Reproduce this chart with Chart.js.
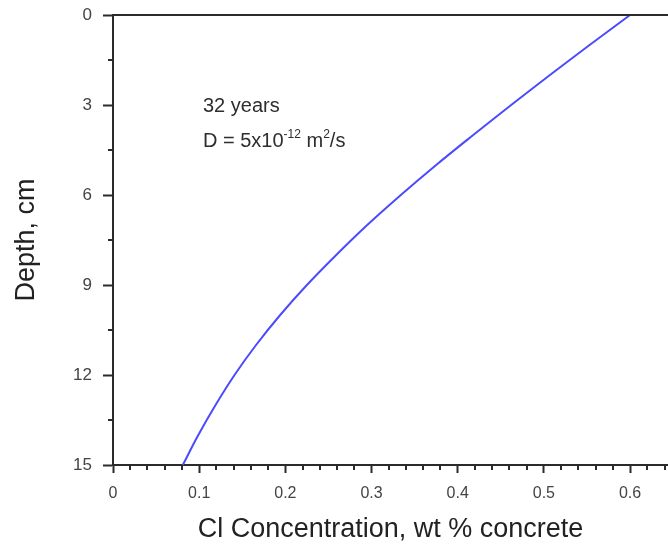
<!DOCTYPE html>
<html>
<head>
<meta charset="utf-8">
<script src="https://cdn.jsdelivr.net/npm/chart.js@4.4.1/dist/chart.umd.min.js"></script>
<style>
  html, body { margin: 0; padding: 0; background: #fff; }
  #wrap { width: 668px; height: 550px; position: relative; }
</style>
</head>
<body>
<div id="wrap"><canvas id="chloride-chart" width="668" height="550"></canvas></div>
<script>
// depth (cm) and chloride content
const depths = [0, 1, 2, 3, 4, 5, 6, 7, 8, 9, 10, 11, 12, 13, 14, 15];
const concentration = [0.600, 0.553, 0.507, 0.462, 0.418, 0.375, 0.334, 0.295, 0.259, 0.225, 0.194, 0.166, 0.141, 0.119, 0.099, 0.081];
const xTicks = [0, 0.1, 0.2, 0.3, 0.4, 0.5, 0.6];
const yTicks = [0, 3, 6, 9, 12, 15];

const axisColor = '#2b2b2b';
const labelColor = '#444';
const fontFamily = '"Liberation Sans", Arial, sans-serif';

const points = depths.map((d, i) => ({ x: concentration[i], y: d }));

// minor ticks + top frame line + annotation text
const extras = {
  id: 'extras',
  afterDraw(chart) {
    const { ctx, chartArea, scales } = chart;
    ctx.save();
    ctx.strokeStyle = axisColor;
    ctx.lineWidth = 2;
    ctx.beginPath();
    ctx.moveTo(chartArea.left, chartArea.top);
    ctx.lineTo(chartArea.right, chartArea.top);
    ctx.stroke();

    ctx.beginPath();
    for (let v = 0.02; v < scales.x.max; v += 0.02) {
      const r = Math.round(v * 100);
      if (r % 10 === 0) continue;
      const px = Math.round(scales.x.getPixelForValue(v));
      ctx.moveTo(px, chartArea.bottom);
      ctx.lineTo(px, chartArea.bottom + 5);
    }
    for (let v = 1.5; v < 15; v += 3) {
      const py = Math.round(scales.y.getPixelForValue(v));
      ctx.moveTo(chartArea.left, py);
      ctx.lineTo(chartArea.left - 5, py);
    }
    ctx.stroke();

    ctx.fillStyle = '#2e2e2e';
    ctx.textBaseline = 'alphabetic';
    const big = '20px ' + fontFamily;
    const small = '12px ' + fontFamily;
    const tx = 203;
    ctx.font = big;
    ctx.fillText('32 years', tx, 112);
    let x = tx;
    const base = 147;
    const seg = (txt, font, dy) => {
      ctx.font = font;
      ctx.fillText(txt, x, base + dy);
      x += ctx.measureText(txt).width;
    };
    seg('D = 5x10', big, 0);
    seg('-12', small, -9);
    seg(' m', big, 0);
    seg('2', small, -9);
    seg('/s', big, 0);
    ctx.restore();
  }
};

new Chart(document.getElementById('chloride-chart').getContext('2d'), {
  type: 'scatter',
  data: {
    datasets: [{
      label: '32 years',
      data: points,
      showLine: true,
      borderColor: '#4a4aff',
      borderWidth: 2,
      pointRadius: 0,
      tension: 0.4,
      fill: false
    }]
  },
  options: {
    responsive: false,
    animation: false,
    layout: { padding: { left: 0, top: 15, right: 0, bottom: 0 } },
    plugins: { legend: { display: false }, tooltip: { enabled: false } },
    scales: {
      x: {
        type: 'linear',
        min: 0,
        max: 0.644,
        afterBuildTicks: (scale) => { scale.ticks = xTicks.map(v => ({ value: v })); },
        afterFit: (scale) => {
          scale.height = 550 - 465;
          scale.paddingLeft = 0;
          scale.paddingRight = 0;
        },
        border: { color: axisColor, width: 2 },
        grid: { drawOnChartArea: false, tickLength: 8, tickColor: axisColor, tickWidth: 2 },
        ticks: {
          color: labelColor,
          padding: 11,
          maxRotation: 0,
          font: { family: fontFamily, size: 16 },
          callback: (v) => (v === 0 ? '0' : v.toFixed(1))
        },
        title: {
          display: true,
          text: 'Cl Concentration, wt % concrete',
          color: '#222',
          padding: { top: 0, bottom: 4 },
          font: { family: fontFamily, size: 27 }
        }
      },
      y: {
        type: 'linear',
        reverse: true,
        min: 0,
        max: 15,
        afterBuildTicks: (scale) => { scale.ticks = yTicks.map(v => ({ value: v })); },
        afterFit: (scale) => {
          scale.width = 113;
          scale.paddingTop = 0;
          scale.paddingBottom = 0;
        },
        border: { color: axisColor, width: 2 },
        grid: { drawOnChartArea: false, tickLength: 10, tickColor: axisColor, tickWidth: 2 },
        ticks: {
          color: labelColor,
          padding: 11,
          font: { family: fontFamily, size: 17 }
        },
        title: {
          display: true,
          text: 'Depth, cm',
          color: '#222',
          padding: { top: 10, bottom: 0 },
          font: { family: fontFamily, size: 27 }
        }
      }
    }
  },
  plugins: [extras]
});
</script>
</body>
</html>
